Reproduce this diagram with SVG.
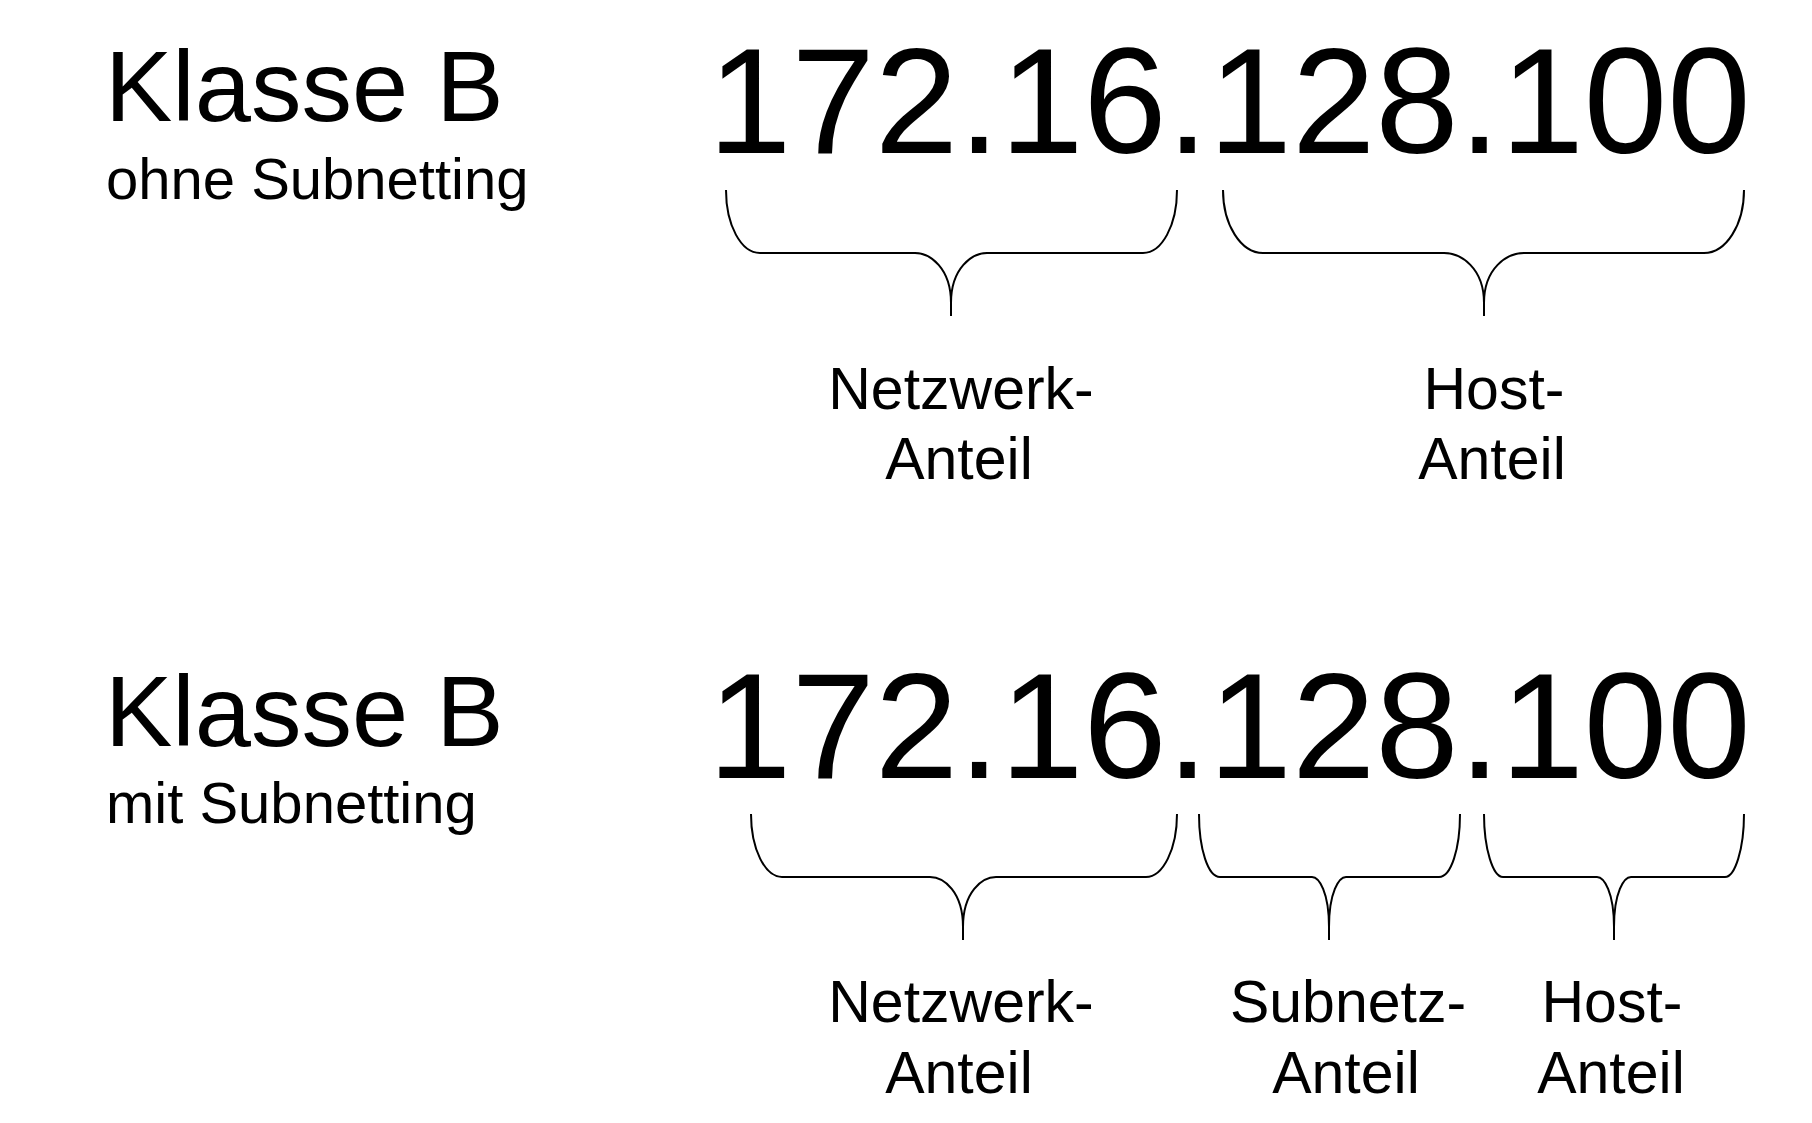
<svg xmlns="http://www.w3.org/2000/svg" width="1812" height="1123" viewBox="0 0 1812 1123">
<style>
text { font-family: "Liberation Sans", Arial, sans-serif; fill: #000; }
.title { font-size: 101px; }
.sub { font-size: 58px; }
.ip { font-size: 150px; }
.lbl { font-size: 59px; text-anchor: middle; }
.brace { fill: none; stroke: #000; stroke-width: 2; stroke-linejoin: round; }
</style>
<rect x="0" y="0" width="1812" height="1123" fill="#fff"/>
<g id="heading-top">
<text class="title" x="105" y="121">Klasse B</text>
<text class="sub" x="106" y="199">ohne Subnetting</text>
</g>
<g id="ip-top"><text class="ip" x="708" y="153">172.16.128.100</text></g>
<g id="label-top-netz">
<text class="lbl" x="961" y="409">Netzwerk-</text>
<text class="lbl" x="959" y="479">Anteil</text>
</g>
<g id="label-top-host">
<text class="lbl" x="1494" y="409">Host-</text>
<text class="lbl" x="1492" y="479">Anteil</text>
</g>
<g id="heading-bottom">
<text class="title" x="105" y="746">Klasse B</text>
<text class="sub" x="106" y="823">mit Subnetting</text>
</g>
<g id="ip-bottom"><text class="ip" x="708" y="778">172.16.128.100</text></g>
<g id="label-bottom-netz">
<text class="lbl" x="961" y="1022">Netzwerk-</text>
<text class="lbl" x="959" y="1093">Anteil</text>
</g>
<g id="label-bottom-subnetz">
<text class="lbl" x="1348" y="1022">Subnetz-</text>
<text class="lbl" x="1346" y="1093">Anteil</text>
</g>
<g id="label-bottom-host">
<text class="lbl" x="1612" y="1022">Host-</text>
<text class="lbl" x="1611" y="1093">Anteil</text>
</g>
<g id="connectors">
<path class="brace" d="M726,190 C726,225 741,253 760,253 L915,253 C930,253 951,268 951,303 L951,316 M951,303 C951,268 972,253 987,253 L1143,253 C1162,253 1177,225 1177,190"/>
<path class="brace" d="M1223,190 C1223,225 1241,253 1263,253 L1444,253 C1461,253 1484,268 1484,303 L1484,316 M1484,303 C1484,268 1507,253 1524,253 L1704,253 C1726,253 1744,225 1744,190"/>
<path class="brace" d="M751,814 C751,849 765,877 782,877 L930,877 C944,877 963,892 963,927 L963,940 M963,927 C963,892 982,877 996,877 L1146,877 C1163,877 1177,849 1177,814"/>
<path class="brace" d="M1199,814 C1199,849 1208,877 1220,877 L1312,877 C1319,877 1329,892 1329,927 L1329,940 M1329,927 C1329,892 1339,877 1346,877 L1439,877 C1451,877 1460,849 1460,814"/>
<path class="brace" d="M1484,814 C1484,849 1493,877 1503,877 L1597,877 C1604,877 1614,892 1614,927 L1614,940 M1614,927 C1614,892 1624,877 1631,877 L1725,877 C1735,877 1744,849 1744,814"/>
</g>
</svg>
